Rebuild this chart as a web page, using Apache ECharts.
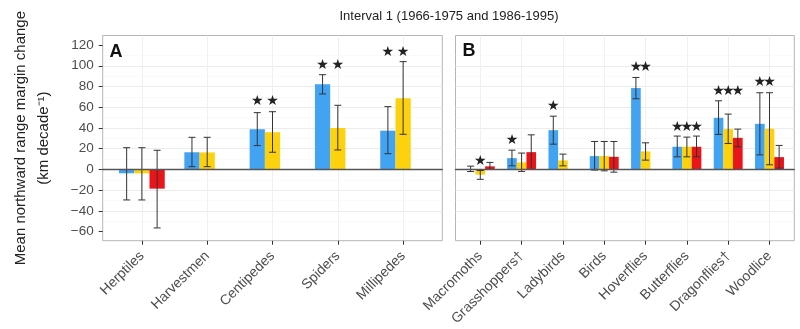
<!DOCTYPE html>
<html><head><meta charset="utf-8">
<script src="https://cdn.jsdelivr.net/npm/echarts@6/dist/echarts.min.js"></script>
<style>html,body{margin:0;padding:0;background:#fff}#c{width:800px;height:329px}</style>
</head><body><div id="c"></div>
<script>
// ---------- data ----------
const titleText = 'Interval 1 (1966-1975 and 1986-1995)';
const yAxisTitle = 'Mean northward range margin change\n(km decade\u207B\u00B9)';
const yTicks = [-60, -40, -20, 0, 20, 40, 60, 80, 100, 120];
const yMin = -68.7, yMax = 129.2;

// Panel A
const aCategories = ['Herptiles', 'Harvestmen', 'Centipedes', 'Spiders', 'Millipedes'];
const aBlue      = [-3.7, 16.6, 38.8, 82.2, 37.4];
const aBlueLo    = [-29.4, 2.7, 23.0, 72.8, 15.2];
const aBlueHi    = [21.0, 31.0, 54.8, 91.4, 60.6];
const aYellow    = [-3.7, 16.4, 35.9, 40.0, 68.7];
const aYellowLo  = [-29.4, 2.7, 16.6, 18.8, 33.9];
const aYellowHi  = [21.0, 31.0, 55.7, 61.9, 104.0];
const aRed       = [-18.5, null, null, null, null];
const aRedLo     = [-56.4, null, null, null, null];
const aRedHi     = [18.5, null, null, null, null];
const aBlueStar   = [null, null, 65.4, 100.8, 112.6];
const aYellowStar = [null, null, 65.4, 100.8, 112.6];
const aRedStar    = [null, null, null, null, null];

// Panel B
const bCategories = ['Macromoths', 'Grasshoppers\u2020', 'Ladybirds', 'Birds', 'Hoverflies', 'Butterflies', 'Dragonflies\u2020', 'Woodlice'];
const bBlue      = [0.5, 10.9, 37.9, 12.9, 78.5, 21.9, 49.8, 44.0];
const bBlueLo    = [-2.0, 3.5, 24.4, -0.6, 68.2, 12.2, 33.8, 14.1];
const bBlueHi    = [3.2, 18.6, 51.4, 27.0, 88.7, 32.2, 66.2, 74.0];
const bYellow    = [-5.0, 6.8, 8.7, 12.9, 17.4, 21.9, 38.9, 39.2];
const bYellowLo  = [-9.5, -1.9, 3.5, -1.3, 9.0, 12.2, 25.0, 4.5];
const bYellowHi  = [-1.0, 15.8, 14.8, 27.0, 25.7, 31.2, 53.4, 74.0];
const bRed       = [3.0, 16.7, null, 12.2, null, 21.9, 30.5, 11.9];
const bRedLo     = [0.0, 0.0, null, -2.6, null, 12.2, 21.9, 1.3];
const bRedHi     = [6.8, 33.4, null, 27.0, null, 32.2, 38.9, 23.2];
const bBlueStar   = [null, 28.3, 60.5, null, 98.4, 40.5, 75.6, 83.8];
const bYellowStar = [7.5, null, null, null, 98.4, 40.5, 75.6, 83.8];
const bRedStar    = [null, null, null, null, null, 40.5, 75.6, null];

// ---------- styles / layout ----------
const FONT = '"Liberation Sans", Arial, sans-serif';
const COLORS = ['#42A3F3', '#FCD20F', '#EA141B'];
const boxTop = 35.5, boxHeight = 205.2;
const boxA = { left: 102.7, width: 339.6 };
const boxB = { left: 455.5, width: 338.8 };
function inset(box, n) { const u = box.width / (n + 0.2); return { left: box.left + 0.1 * u, width: n * u }; }
const dA = inset(boxA, aCategories.length);
const dB = inset(boxB, bCategories.length);

const chart = echarts.init(document.getElementById('c'), null, { renderer: 'canvas' });

function minusFmt(v) { return v < 0 ? '\u2212' + Math.abs(v) : String(v); }

function frameGrid(box) {
  return { left: box.left, top: boxTop, width: box.width, height: boxHeight, show: true,
    borderColor: '#B5B5B5', borderWidth: 1, backgroundColor: 'transparent' };
}
function dataGrid(d) { return { left: d.left, top: boxTop, width: d.width, height: boxHeight, show: false }; }

function frameX(gi) {
  return { gridIndex: gi, type: 'value', min: 0, max: 1, z: 5,
    axisLine: { show: true, onZero: true, lineStyle: { color: '#555', width: 1.3 } },
    axisTick: { show: false }, axisLabel: { show: false }, splitLine: { show: false } };
}
function frameY(gi, withLabels) {
  const o = { gridIndex: gi, type: 'value', min: yMin, max: yMax, minInterval: 20, maxInterval: 20, splitNumber: 10,
    axisLine: { show: false },
    axisTick: { show: withLabels, length: 4, customValues: yTicks, lineStyle: { color: '#333' } },
    axisLabel: { show: withLabels, customValues: yTicks, fontSize: 13.5, color: '#4D4D4D', margin: 9, fontFamily: FONT, formatter: minusFmt },
    splitLine: { show: true, showMinLine: false, showMaxLine: false, lineStyle: { color: '#ECECEC', width: 1 } },
    minorTick: { show: false, splitNumber: 2 },
    minorSplitLine: { show: true, lineStyle: { color: '#F6F6F6', width: 0.6 } } };
  if (withLabels) {
    Object.assign(o, { name: yAxisTitle, nameLocation: 'middle', nameRotate: 90, nameGap: 47,
      nameTextStyle: { fontSize: 15, lineHeight: 23, color: '#222', fontFamily: FONT } });
  }
  return o;
}
function dataX(gi, cats) {
  return { gridIndex: gi, type: 'category', data: cats, position: 'bottom',
    axisLine: { show: false, onZero: false },
    axisTick: { show: true, alignWithLabel: true, length: 4, lineStyle: { color: '#333' } },
    axisLabel: { interval: 0, rotate: 45, fontSize: 14, color: '#4D4D4D', margin: 13, fontFamily: FONT },
    splitLine: { show: true, alignWithLabel: true, lineStyle: { color: '#F0F0F0', width: 1 } } };
}
function dataY(gi) { return { gridIndex: gi, type: 'value', min: yMin, max: yMax, show: false, splitLine: { show: false } }; }

function barSeries(axis, values, color) {
  return { type: 'bar', xAxisIndex: axis, yAxisIndex: axis, data: values, barGap: '0%', barCategoryGap: '30%',
    itemStyle: { color: color }, z: 2 };
}
function errData(lists) {
  const out = [];
  lists.forEach((pair, slot) => {
    pair[0].forEach((lo, i) => { if (lo != null && pair[1][i] != null) out.push([i, slot, lo, pair[1][i]]); });
  });
  return out;
}
function starData(lists) {
  const out = [];
  lists.forEach((arr, slot) => arr.forEach((v, i) => { if (v != null) out.push([i, slot, v]); }));
  return out;
}
function errSeries(axis, data) {
  return { type: 'custom', xAxisIndex: axis, yAxisIndex: axis, data: data, z: 4, encode: { x: 0, y: [2, 3] },
    renderItem: function (params, api) {
      const cat = api.value(0), slot = api.value(1);
      const band = api.size([1, 0])[0];
      const bw = band * 0.7 / 3;
      const x = api.coord([cat, 0])[0] + (slot - 1) * bw;
      const y1 = api.coord([cat, api.value(2)])[1];
      const y2 = api.coord([cat, api.value(3)])[1];
      const cw = 3.5;
      const st = { stroke: '#333', lineWidth: 1 };
      return { type: 'group', children: [
        { type: 'line', shape: { x1: x, y1: y1, x2: x, y2: y2 }, style: st },
        { type: 'line', shape: { x1: x - cw, y1: y1, x2: x + cw, y2: y1 }, style: st },
        { type: 'line', shape: { x1: x - cw, y1: y2, x2: x + cw, y2: y2 }, style: st }
      ] };
    } };
}
function starSeries(axis, data) {
  return { type: 'custom', xAxisIndex: axis, yAxisIndex: axis, data: data, z: 4, encode: { x: 0, y: 2 },
    renderItem: function (params, api) {
      const cat = api.value(0), slot = api.value(1);
      const band = api.size([1, 0])[0];
      const bw = band * 0.7 / 3;
      const p = api.coord([cat, api.value(2)]);
      return { type: 'text', style: { text: '\u2605', x: p[0] + (slot - 1) * bw, y: p[1],
        align: 'center', verticalAlign: 'middle', textAlign: 'center', textVerticalAlign: 'middle',
        fontSize: 14, fill: '#222', fontFamily: '"DejaVu Sans", sans-serif' } };
    } };
}

const option = {
  animation: false,
  backgroundColor: '#fff',
  textStyle: { fontFamily: FONT },
  title: [
    { text: titleText, left: 449, top: 10, textAlign: 'center', padding: 0,
      textStyle: { fontSize: 13, fontWeight: 'normal', color: '#222', fontFamily: FONT } },
    { text: 'A', left: 109.5, top: 43, padding: 0, textStyle: { fontSize: 18, fontWeight: 'bold', color: '#111', fontFamily: FONT } },
    { text: 'B', left: 462.5, top: 42, padding: 0, textStyle: { fontSize: 18, fontWeight: 'bold', color: '#111', fontFamily: FONT } }
  ],
  grid: [frameGrid(boxA), dataGrid(dA), frameGrid(boxB), dataGrid(dB)],
  xAxis: [frameX(0), dataX(1, aCategories), frameX(2), dataX(3, bCategories)],
  yAxis: [frameY(0, true), dataY(1), frameY(2, false), dataY(3)],
  series: [
    barSeries(1, aBlue, COLORS[0]), barSeries(1, aYellow, COLORS[1]), barSeries(1, aRed, COLORS[2]),
    errSeries(1, errData([[aBlueLo, aBlueHi], [aYellowLo, aYellowHi], [aRedLo, aRedHi]])),
    starSeries(1, starData([aBlueStar, aYellowStar, aRedStar])),
    barSeries(3, bBlue, COLORS[0]), barSeries(3, bYellow, COLORS[1]), barSeries(3, bRed, COLORS[2]),
    errSeries(3, errData([[bBlueLo, bBlueHi], [bYellowLo, bYellowHi], [bRedLo, bRedHi]])),
    starSeries(3, starData([bBlueStar, bYellowStar, bRedStar]))
  ]
};
chart.setOption(option);
</script>
</body></html>
